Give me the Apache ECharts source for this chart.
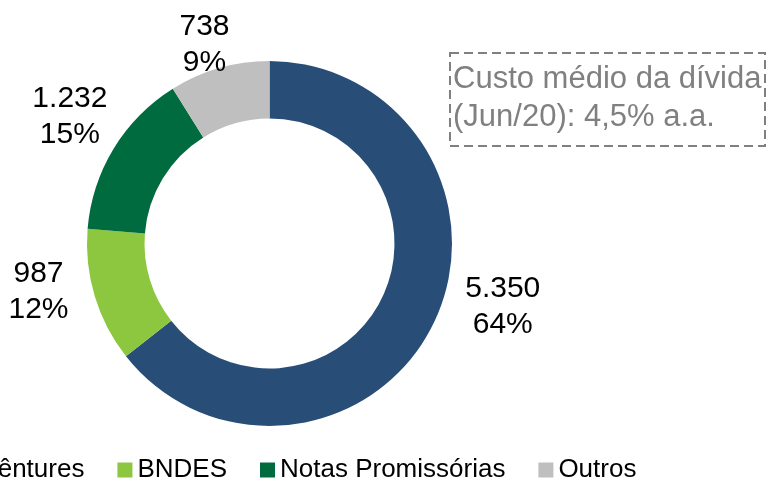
<!DOCTYPE html>
<html>
<head>
<meta charset="utf-8">
<script src="https://cdn.jsdelivr.net/npm/echarts@6/dist/echarts.min.js"></script>
<style>
  html, body { margin: 0; padding: 0; background: #ffffff; }
  #chart { width: 772px; height: 479px; }
</style>
</head>
<body>
<div id="chart"></div>
<script>
// debt breakdown, R$ million
const categories = ["Debêntures", "BNDES", "Notas Promissórias", "Outros"];
const values = [5350, 987, 1232, 738];
const colors = ["#284e78", "#8dc63f", "#006b3f", "#bfbfbf"];
// small label nudges (px) from the default outside position
const labelNudge = [[21, -40], [-5, -20], [2, -4], [0, 28]];
const noteLines = ["Custo médio da dívida", "(Jun/20): 4,5% a.a."];

function fmtThousands(v) {
    return String(v).replace(/\B(?=(\d{3})+(?!\d))/g, ".");
}

const font = "'Liberation Sans', Arial, sans-serif";

const chart = echarts.init(document.getElementById("chart"), null, { renderer: "canvas" });

const option = {
    animation: false,
    backgroundColor: "#ffffff",
    color: colors,
    legend: {
        data: categories,
        left: -70,
        top: 457,
        padding: 0,
        itemWidth: 15,
        itemHeight: 15,
        itemGap: 33,
        icon: "rect",
        textStyle: { fontFamily: font, fontSize: 26, color: "#000000" }
    },
    graphic: [
        {
            type: "rect",
            shape: { x: 450, y: 53, width: 315, height: 93 },
            style: { fill: "transparent", stroke: "#808080", lineWidth: 2, lineDash: [9, 5] },
            z: 10
        },
        {
            type: "text",
            left: 453,
            top: 60,
            style: {
                text: noteLines.join("\n"),
                font: "31px " + font,
                lineHeight: 38,
                fill: "#808080"
            },
            z: 11
        }
    ],
    series: [{
        type: "pie",
        center: [269.5, 243.5],
        radius: [125, 182.5],
        startAngle: 90,
        clockwise: true,
        avoidLabelOverlap: false,
        data: categories.map((name, i) => ({ name: name, value: values[i] })),
        label: {
            show: true,
            position: "outside",
            distanceToLabelLine: 0,
            fontFamily: font,
            fontSize: 30,
            lineHeight: 36,
            color: "#000000",
            formatter: p => fmtThousands(p.value) + "\n" + Math.round(p.percent) + "%"
        },
        labelLine: { show: false, length: 53.5, length2: 0 },
        labelLayout: p => ({
            align: "center",
            dx: labelNudge[p.dataIndex][0],
            dy: labelNudge[p.dataIndex][1]
        }),
        itemStyle: { borderWidth: 0 },
        emphasis: { disabled: true }
    }]
};

chart.setOption(option);
</script>
</body>
</html>
